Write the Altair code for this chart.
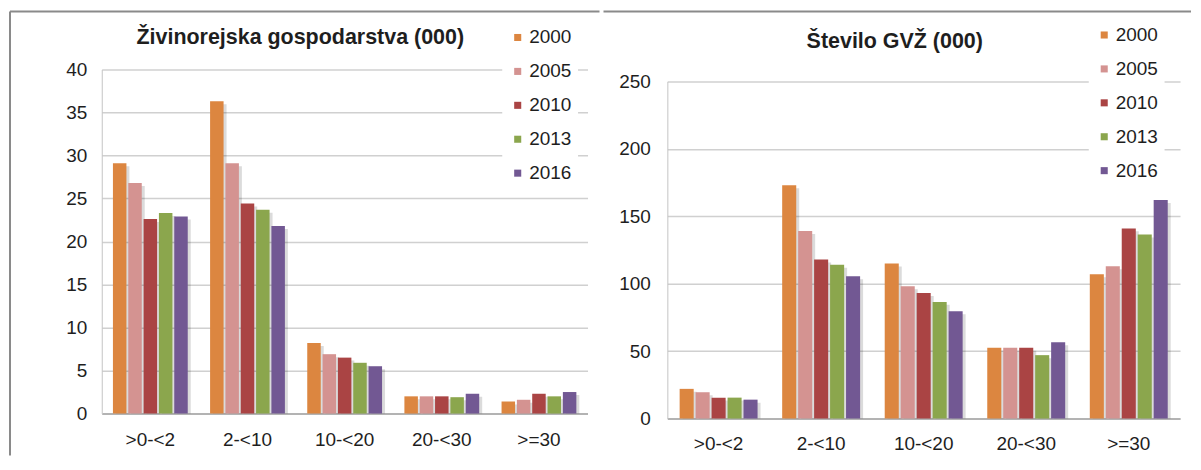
import altair as alt
import pandas as pd

categories = [">0-<2", "2-<10", "10-<20", "20-<30", ">=30"]
years = ["2000", "2005", "2010", "2013", "2016"]
colors = ["#DC8640", "#D49391", "#AA4444", "#8BA64D", "#725893"]

# Živinorejska gospodarstva (000)
farms_2000 = [29.1, 36.3, 8.2, 2.0, 1.4]
farms_2005 = [26.8, 29.1, 6.9, 2.0, 1.6]
farms_2010 = [22.6, 24.4, 6.5, 2.0, 2.3]
farms_2013 = [23.3, 23.7, 5.9, 1.9, 2.0]
farms_2016 = [22.9, 21.8, 5.5, 2.3, 2.5]

# Število GVŽ (000)
lsu_2000 = [22.0, 173.0, 115.0, 52.5, 107.0]
lsu_2005 = [19.5, 139.0, 98.0, 52.5, 113.0]
lsu_2010 = [15.5, 118.0, 93.0, 52.5, 141.0]
lsu_2013 = [15.5, 114.0, 86.5, 47.0, 136.5]
lsu_2016 = [14.0, 105.5, 79.5, 56.5, 162.0]

left_ticks = [0, 5, 10, 15, 20, 25, 30, 35, 40]
right_ticks = [0, 50, 100, 150, 200, 250]
title_left = "Živinorejska gospodarstva (000)"
title_right = "Število GVŽ (000)"

FONT = "Liberation Sans"
TXT = "#1e1e1e"
BORDER = "#8a8a8a"


def long_table(series):
    rows = []
    for yr, vals in zip(years, series):
        for c, v in zip(categories, vals):
            rows.append({"cat": c, "year": yr, "value": v})
    return pd.DataFrame(rows)


def panel(df, ticks, ymax, width, height, yrange, title, title_x, title_y,
          legend_x, legend_y, top_y, top_x1, top_x2, pad_y, pad_x, pinner,
          left_border=False):
    step = width / 5.0
    bandw = step * (1 - pinner)
    xenc = alt.X("cat:N", sort=categories,
                 scale=alt.Scale(paddingInner=pinner, paddingOuter=pinner / 2),
                 axis=alt.Axis(title=None, labelAngle=0, ticks=False, tickSize=0,
                               grid=False, domainColor="#a6a6a6", domainWidth=1.5,
                               labelPadding=pad_x))
    yenc = alt.Y("value:Q", scale=alt.Scale(domain=[0, ymax], nice=False, range=yrange),
                 axis=alt.Axis(title=None, values=ticks, ticks=False, tickSize=0,
                               grid=True, gridColor="#d0d0d0", gridWidth=1.5,
                               domainColor="#c4c4c4", domainWidth=1,
                               labelPadding=pad_y, labelFlush=False))
    shadow = alt.Chart(df).mark_bar(color="#000000", opacity=0.14, yOffset=3,
                                    clip=True).encode(
        x=xenc,
        xOffset=alt.XOffset("year:N", sort=years,
                            scale=alt.Scale(paddingInner=0.12, paddingOuter=0,
                                            range=[3, bandw + 3])),
        y=yenc,
    )
    bars = alt.Chart(df).mark_bar().encode(
        x=xenc,
        xOffset=alt.XOffset("year:N", sort=years,
                            scale=alt.Scale(paddingInner=0.12, paddingOuter=0,
                                            range=[0, bandw])),
        y=yenc,
        color=alt.Color("year:N", sort=years,
                        scale=alt.Scale(domain=years, range=colors),
                        legend=alt.Legend(orient="none", legendX=legend_x, legendY=legend_y,
                                          title=None, direction="vertical",
                                          symbolType="square", symbolSize=50,
                                          symbolStrokeWidth=0,
                                          labelFont=FONT, labelFontSize=19,
                                          labelColor=TXT, labelOffset=2,
                                          rowPadding=14, padding=6,
                                          fillColor="white")),
    )
    one = pd.DataFrame({"t": [title]})
    top_rule = alt.Chart(one).mark_rule(color=BORDER, strokeWidth=2).encode(
        x=alt.value(top_x1), x2=alt.value(top_x2),
        y=alt.value(top_y), y2=alt.value(top_y))
    ttl = alt.Chart(one).mark_text(font=FONT, fontSize=21.5, fontWeight="bold",
                                   color=TXT, align="center",
                                   baseline="alphabetic").encode(
        text="t:N", x=alt.value(title_x), y=alt.value(title_y))
    layers = [top_rule]
    if left_border:
        layers.append(alt.Chart(one).mark_rule(color=BORDER, strokeWidth=2).encode(
            x=alt.value(-92), x2=alt.value(-92), y=alt.value(top_y), y2=alt.value(387)))
    layers += [shadow, bars, ttl]
    return alt.layer(*layers).resolve_scale(xOffset="independent").properties(
        width=width, height=height)


left = panel(long_table([farms_2000, farms_2005, farms_2010, farms_2013, farms_2016]),
             left_ticks, 40, 487, 345, [345, 0], title_left, 199, -25.5,
             401.5, -47.5, -58, -92, 499, 15, 17, 0.23, left_border=True)
right = panel(long_table([lsu_2000, lsu_2005, lsu_2010, lsu_2013, lsu_2016]),
              right_ticks, 250, 514, 350, [350, 12], title_right, 228, -21,
              422.5, -50, -58, -64, 525, 17, 16, 0.24)

chart = alt.hconcat(left, right, spacing=0).resolve_scale(
    color="independent"
).configure(
    padding={"left": 0, "top": 1, "right": 0, "bottom": 0},
    background="white",
).configure_view(stroke="transparent").configure_axis(
    labelFont=FONT, labelFontSize=19, labelColor=TXT
)

chart.save("out.html", embed_options={"renderer": "svg", "actions": False})
